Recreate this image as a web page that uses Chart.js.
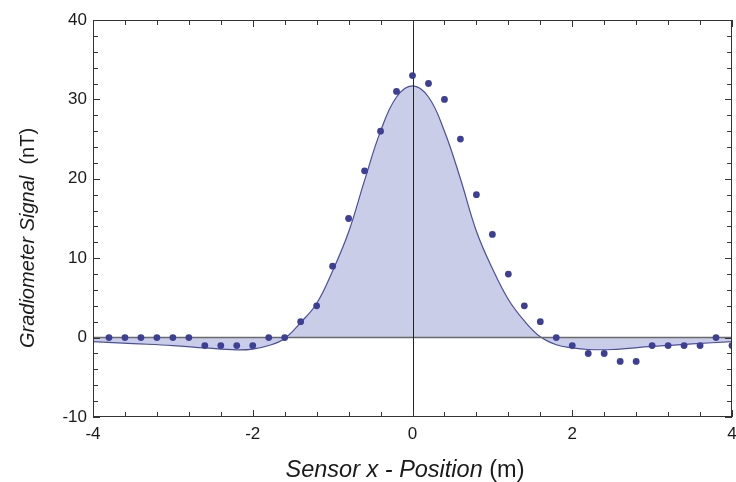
<!DOCTYPE html>
<html>
<head>
<meta charset="utf-8">
<script src="https://cdn.jsdelivr.net/npm/chart.js@4.4.1/dist/chart.umd.min.js"></script>
<style>
  html, body { margin: 0; padding: 0; background: #fff; }
</style>
</head>
<body>
<canvas id="chart" width="736" height="482"></canvas>
<script>
// measured sensor positions (m) and gradiometer readings (nT)
const sensorX = [-3.8, -3.6, -3.4, -3.2, -3.0, -2.8, -2.6, -2.4, -2.2, -2.0,
                 -1.8, -1.6, -1.4, -1.2, -1.0, -0.8, -0.6, -0.4, -0.2, 0.0,
                 0.2, 0.4, 0.6, 0.8, 1.0, 1.2, 1.4, 1.6, 1.8, 2.0,
                 2.2, 2.4, 2.6, 2.8, 3.0, 3.2, 3.4, 3.6, 3.8, 4.0];
const measured = [0, 0, 0, 0, 0, 0, -1, -1, -1, -1,
                  0, 0, 2, 4, 9, 15, 21, 26, 31, 33,
                  32, 30, 25, 18, 13, 8, 4, 2, 0, -1,
                  -2, -2, -3, -3, -1, -1, -1, -1, 0, -1];

// model curve
const modelX = [-4, -3.5, -3, -2.6, -2.2, -2.0, -1.8, -1.6, -1.4, -1.2, -1.0, -0.8, -0.6, -0.4, -0.2,
                0, 0.2, 0.4, 0.6, 0.8, 1.0, 1.2, 1.4, 1.6, 1.8, 2.0, 2.2, 2.5, 3.0, 3.5, 4.0];
const modelY = [-0.5, -0.75, -1.0, -1.3, -1.55, -1.45, -1.0, -0.1, 1.9, 4.3, 8.4, 13.3, 19.8, 26.0, 30.3,
                31.7, 30.3, 26.0, 20.0, 13.4, 8.7, 4.8, 2.1, 0.1, -0.9, -1.3, -1.5, -1.5, -1.1, -0.8, -0.5];

const xTicks = [-4, -2, 0, 2, 4];
const yTicks = [-10, 0, 10, 20, 30, 40];

const pts = sensorX.map((x, i) => ({x: x, y: measured[i]}));
const curve = modelX.map((x, i) => ({x: x, y: modelY[i]}));

const FONT = '"Liberation Sans", Arial, Helvetica, sans-serif';

// frame, inward ticks, zero lines and axis titles
const decor = {
    id: 'decor',
    afterDatasetDraw(chart, args) {
        if (args.index !== 1) return;
        const ctx = chart.ctx, a = chart.chartArea;
        const xs = chart.scales.x, ys = chart.scales.y;
        ctx.save();
        ctx.strokeStyle = '#6a6a6a';
        ctx.lineWidth = 1.5;
        const y0 = ys.getPixelForValue(0);
        ctx.beginPath(); ctx.moveTo(a.left, y0); ctx.lineTo(a.right, y0); ctx.stroke();
        ctx.strokeStyle = '#222';
        ctx.lineWidth = 1;
        const x0 = Math.round(xs.getPixelForValue(0)) + 0.5;
        ctx.beginPath(); ctx.moveTo(x0, a.top); ctx.lineTo(x0, a.bottom); ctx.stroke();
        ctx.restore();
    },
    afterDraw(chart) {
        const ctx = chart.ctx, a = chart.chartArea;
        const xs = chart.scales.x, ys = chart.scales.y;
        ctx.save();
        ctx.strokeStyle = '#333';
        ctx.lineWidth = 1;
        ctx.strokeRect(a.left + 0.5, a.top + 0.5, a.right - a.left - 1, a.bottom - a.top - 1);
        ctx.beginPath();
        for (let v = -10; v <= 40; v += 2) {
            const p = Math.round(ys.getPixelForValue(v)) + 0.5;
            const len = v % 10 === 0 ? 7 : 5;
            ctx.moveTo(a.left, p); ctx.lineTo(a.left + len, p);
            ctx.moveTo(a.right, p); ctx.lineTo(a.right - len, p);
        }
        for (let k = 0; k <= 20; k++) {
            const v = -4 + k * 0.4;
            const p = Math.round(xs.getPixelForValue(v)) + 0.5;
            const len = k % 5 === 0 ? 7 : 5;
            ctx.moveTo(p, a.bottom); ctx.lineTo(p, a.bottom - len);
            ctx.moveTo(p, a.top); ctx.lineTo(p, a.top + len);
        }
        ctx.stroke();

        // axis titles: italic name + upright unit
        ctx.fillStyle = '#1a1a1a';
        ctx.textBaseline = 'alphabetic';
        let it = 'italic 23.5px ' + FONT, up = '23.5px ' + FONT;
        ctx.font = it;
        const xa = 'Sensor x - Position', xaw = ctx.measureText(xa).width;
        ctx.font = up;
        const xb = ' (m)', xbw = ctx.measureText(xb).width;
        let sx = 405 - (xaw + xbw) / 2;
        ctx.font = it; ctx.fillText(xa, sx, 477);
        ctx.font = up; ctx.fillText(xb, sx + xaw, 477);

        it = 'italic 20px ' + FONT; up = '20px ' + FONT;
        ctx.translate(34, 238);
        ctx.rotate(-Math.PI / 2);
        ctx.font = it;
        const ya = 'Gradiometer Signal', yaw = ctx.measureText(ya).width;
        ctx.font = up;
        const yb = '  (nT)', ybw = ctx.measureText(yb).width;
        sx = -(yaw + ybw) / 2;
        ctx.font = it; ctx.fillText(ya, sx, 0);
        ctx.font = up; ctx.fillText(yb, sx + yaw, 0);
        ctx.restore();
    }
};

new Chart(document.getElementById('chart').getContext('2d'), {
    type: 'scatter',
    data: {
        datasets: [
            {
                label: 'Measured',
                data: pts,
                showLine: false,
                pointRadius: 3.4,
                pointBackgroundColor: '#3d3f96',
                pointBorderWidth: 0
            },
            {
                label: 'Model',
                data: curve,
                showLine: true,
                pointRadius: 0,
                borderColor: '#4b4e9e',
                borderWidth: 1.2,
                backgroundColor: '#c9cde7',
                fill: 'origin',
                tension: 0.4
            }
        ]
    },
    options: {
        responsive: false,
        animation: false,
        devicePixelRatio: 1,
        layout: { padding: { top: 20, right: 3, left: 0, bottom: 0 } },
        plugins: {
            legend: { display: false },
            tooltip: { enabled: false }
        },
        scales: {
            x: {
                type: 'linear',
                min: -4,
                max: 4,
                grid: { display: false, drawTicks: false },
                border: { display: false },
                afterBuildTicks: s => { s.ticks = xTicks.map(v => ({value: v})); },
                afterFit: s => { s.height = 65; s.paddingLeft = 0; s.paddingRight = 0; },
                ticks: { padding: 7, color: '#1a1a1a', font: { family: FONT, size: 17 }, maxRotation: 0 }
            },
            y: {
                min: -10,
                max: 40,
                grid: { display: false, drawTicks: false },
                border: { display: false },
                afterBuildTicks: s => { s.ticks = yTicks.map(v => ({value: v})); },
                afterFit: s => { s.width = 93; },
                ticks: { padding: 6, color: '#1a1a1a', font: { family: FONT, size: 17 } }
            }
        }
    },
    plugins: [decor]
});
</script>
</body>
</html>
